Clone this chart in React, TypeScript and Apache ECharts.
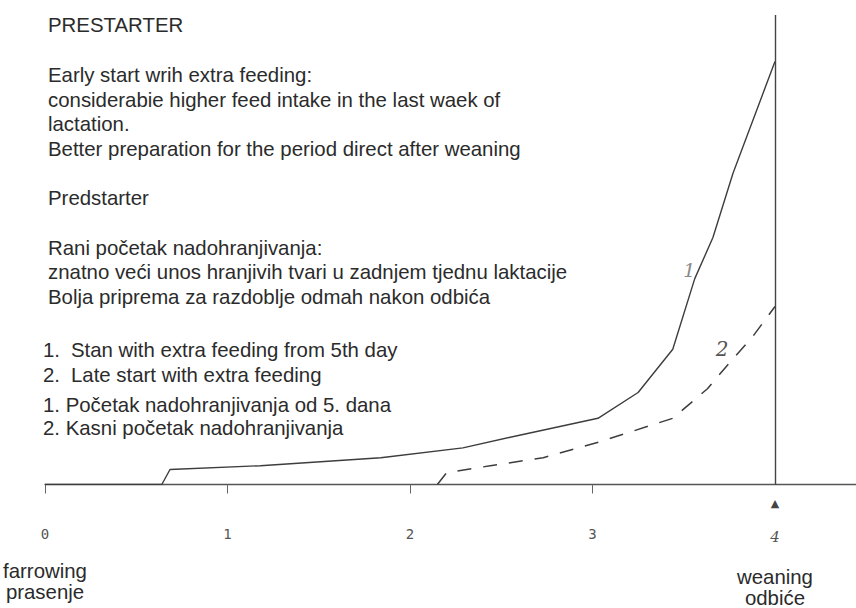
import React, { useEffect, useRef } from "react";
import * as echarts from "echarts";

// Curve 1: early start with extra feeding (weeks after farrowing vs. relative feed intake)
const earlyWeeks = [0, 0.64, 0.685, 1.18, 1.84, 2.29, 2.6, 3.03, 3.25, 3.44, 3.56, 3.66, 3.77, 4.0];
const earlyIntake = [0, 0, 3.2, 4.0, 5.7, 7.8, 10.5, 14.1, 19.6, 28.8, 43.8, 52.6, 66.3, 90.1];
// Curve 2: late start with extra feeding
const lateWeeks = [2.15, 2.2, 2.44, 2.73, 3.04, 3.44, 3.63, 3.75, 3.88, 4.0];
const lateIntake = [0, 2.5, 4.0, 5.7, 9.1, 14.1, 20.4, 25.9, 31.6, 37.9];

const tickWeeks = [0, 1, 2, 3];
const labelWeeks = [0, 1, 2, 3, 4];
const weaningWeek = 4;
const startLabel = ["farrowing", "prasenje"];
const endLabel = ["weaning", "odbiće"];

const heading = "PRESTARTER";
const englishBlock = [
  "Early start wrih extra feeding:",
  "considerabie higher feed intake in the last waek of",
  "lactation.",
  "Better preparation for the period direct after weaning",
];
const headingHr = "Predstarter";
const croatianBlock = [
  "Rani početak nadohranjivanja:",
  "znatno veći unos hranjivih tvari u zadnjem tjednu laktacije",
  "Bolja priprema za razdoblje odmah nakon odbića",
];
const legendEn = ["Stan with extra feeding from 5th day", "Late start with extra feeding"];
const legendHr = ["Početak nadohranjivanja od 5. dana", "Kasni početak nadohranjivanja"];
const curveNames = ["1", "2"];

const FAMILY = '"Liberation Sans", Arial, sans-serif';
const FSIZE = 20.4;
const FONT = `${FSIZE}px ${FAMILY}`;
const TXT = "#2b2b2b";
const LINE = "#3d3d3d";

function txt(text: string, x: number, y: number) {
  return {
    type: "text",
    x,
    y,
    silent: true,
    style: { text, fill: TXT, font: FONT, verticalAlign: "middle", align: "left" },
  };
}

export default function App() {
  const ref = useRef<HTMLDivElement>(null);
  useEffect(() => {
    if (!ref.current) return;
    const chart = echarts.init(ref.current, undefined, { renderer: "svg" });
    const early = earlyWeeks.map((w, i) => [w, earlyIntake[i]]);
    const late = lateWeeks.map((w, i) => [w, lateIntake[i]]);

    const graphics: any[] = [];
    graphics.push(txt(heading, 48, 25));
    const enY = [75, 100, 124, 149];
    englishBlock.forEach((t, i) => graphics.push(txt(t, 48, enY[i])));
    graphics.push(txt(headingHr, 48, 198));
    const hrY = [248, 272, 297];
    croatianBlock.forEach((t, i) => graphics.push(txt(t, 48, hrY[i])));
    const lgY = [350, 375];
    legendEn.forEach((t, i) => {
      graphics.push(txt(curveNames[i] + ".", 43, lgY[i]));
      graphics.push(txt(t, 71, lgY[i]));
    });
    const lhY = [405, 428];
    legendHr.forEach((t, i) => graphics.push(txt(curveNames[i] + ". " + t, 43, lhY[i])));

    chart.setOption({
      animation: false,
      backgroundColor: "#ffffff",
      grid: { left: 45, right: 0, top: 15, bottom: 118, containLabel: false },
      xAxis: [
        {
          type: "value",
          min: 0,
          max: 4.444,
          axisLine: { show: true, lineStyle: { color: "#555", width: 1.3 } },
          axisTick: {
            show: true,
            customValues: tickWeeks,
            length: 9,
            lineStyle: { color: "#666", width: 1 },
          },
          axisLabel: {
            show: true,
            customValues: labelWeeks,
            margin: 22,
            formatter: (v: number) => {
              if (v === 0) return `{n|0}\n{g|${startLabel[0]}}\n{g|${startLabel[1]}}`;
              if (v === weaningWeek) return `{m|${v}}\n{g|${endLabel[0]}}\n{g|${endLabel[1]}}`;
              return `{n|${v}}`;
            },
            rich: {
              n: {
                fontSize: 14,
                fontFamily: '"DejaVu Sans Mono", monospace',
                color: "#555",
                lineHeight: 54,
                align: "center",
              },
              m: {
                fontSize: 15,
                fontStyle: "italic",
                fontFamily: '"DejaVu Serif", serif',
                color: "#555",
                lineHeight: 60,
                align: "center",
              },
              g: {
                fontSize: FSIZE,
                fontFamily: FAMILY,
                color: TXT,
                lineHeight: 21,
                align: "center",
              },
            },
          },
          splitLine: { show: false },
        },
        {
          // weaning marker arrow under the axis
          type: "value",
          position: "bottom",
          min: 0,
          max: 4.444,
          axisLine: { show: false },
          axisTick: { show: false },
          splitLine: { show: false },
          axisLabel: {
            show: true,
            customValues: [weaningWeek],
            margin: 13,
            formatter: () => "▲",
            fontSize: 11,
            lineHeight: 12,
            color: "#444",
            fontFamily: '"DejaVu Sans", sans-serif',
          },
        },
      ],
      yAxis: {
        type: "value",
        min: 0,
        max: 100,
        show: false,
        splitLine: { show: false },
      },
      graphic: graphics,
      series: [
        {
          type: "line",
          name: curveNames[0],
          data: early,
          showSymbol: false,
          symbol: "none",
          lineStyle: { color: LINE, width: 1.4 },
          markLine: {
            silent: true,
            symbol: ["none", "none"],
            label: { show: false },
            lineStyle: { color: "#444", width: 1.4, type: "solid" },
            data: [{ xAxis: weaningWeek }],
          },
          markPoint: {
            silent: true,
            data: [
              {
                coord: [3.53, 45.7],
                symbol: "circle",
                symbolSize: 0,
                label: {
                  show: true,
                  position: "inside",
                  formatter: curveNames[0],
                  fontSize: 19,
                  fontStyle: "italic",
                  fontFamily: '"DejaVu Serif", serif',
                  color: "#8a8a8a",
                },
              },
            ],
          },
        },
        {
          type: "line",
          name: curveNames[1],
          data: late,
          showSymbol: false,
          symbol: "none",
          lineStyle: { color: LINE, width: 1.5, type: [14, 12] },
          markPoint: {
            silent: true,
            data: [
              {
                coord: [3.71, 28.8],
                symbol: "circle",
                symbolSize: 0,
                label: {
                  show: true,
                  position: "inside",
                  formatter: curveNames[1],
                  fontSize: 20,
                  fontStyle: "italic",
                  fontFamily: '"DejaVu Serif", serif',
                  color: "#555",
                },
              },
            ],
          },
        },
      ],
    });
    return () => chart.dispose();
  }, []);
  return (
    <div
      ref={ref}
      style={{ position: "fixed", left: 0, top: 0, width: 856, height: 608, background: "#fff" }}
    />
  );
}
